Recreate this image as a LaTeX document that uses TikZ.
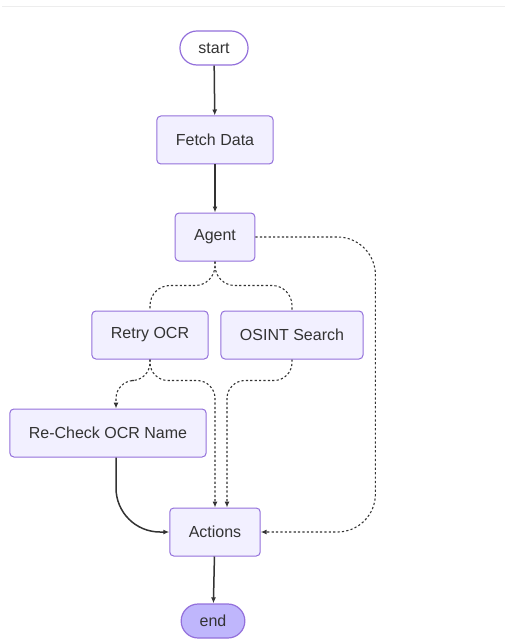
\documentclass[tikz,border=0pt]{standalone}
\usepackage{fontspec}
\setmainfont{Liberation Sans}
\usetikzlibrary{arrows.meta, calc}

\definecolor{nodefill}{HTML}{F2F0FF}
\definecolor{nodeline}{HTML}{9370DB}
\definecolor{endfill}{HTML}{BFB6FC}
\definecolor{edgeline}{HTML}{333333}

\begin{document}
\begin{tikzpicture}[
            x=1pt, y=-1pt,
            every node/.style={align=center, font=\fontsize{16}{19}\selectfont, text=edgeline},
            box/.style={draw=nodeline, fill=nodefill, line width=1pt, rounded corners=4pt, minimum height=48pt, inner xsep=19pt},
            terminal/.style={draw=nodeline, fill=nodefill, line width=1.2pt, rounded corners=17pt, minimum height=34pt, inner xsep=18.5pt},
            tip/.style={-{Latex[length=6pt,width=5pt]}},
            flow/.style={draw=edgeline, line width=1.5pt, tip},
            cond/.style={draw=edgeline, line width=1.1pt, dash pattern=on 2.2pt off 2.2pt}
        ]
            \useasboundingbox (0,0) rectangle (506,639);
            \draw[black!7, line width=1pt] (2,7) -- (505,7);

            \node[terminal, fill=white] (start) at (214,48) {start};
            \node[box] (fetch) at (215,140) {Fetch Data};
            \node[box] (agent) at (215,237) {Agent};
            \node[box] (retry) at (150,335) {Retry OCR};
            \node[box] (osint) at (292,335) {OSINT Search};
            \node[box] (recheck) at (108,433) {Re-Check OCR Name};
            \node[box] (actions) at (215,532) {Actions};
            \node[terminal, fill=endfill] (finish) at (213,621) {end};

            \draw[flow] (start) -- (fetch);
            \draw[flow] (fetch) -- (agent);
            \draw[cond, rounded corners=20pt] (agent.south) -- ++(0,24) -| (retry.north);
            \draw[cond, rounded corners=20pt] (agent.south) -- ++(0,24) -| (osint.north);
            \draw[cond, tip, rounded corners=18pt] (retry.south) -- ++(0,21) -| ([xshift=8pt]recheck.north);
            \draw[cond, tip, rounded corners=18pt] (retry.south) -- ++(0,21) -| (actions.north);
            \draw[cond, tip, rounded corners=18pt] (osint.south) -- ++(0,21) -| ([xshift=12pt]actions.north);
            \draw[cond, tip, rounded corners=38pt] (agent.east) -- ++(120,0) |- (actions.east);
            \draw[flow, rounded corners=44pt] ([xshift=8pt]recheck.south) |- (actions.west);
            \draw[flow] (actions) -- (finish);
        \end{tikzpicture}
\end{document}
